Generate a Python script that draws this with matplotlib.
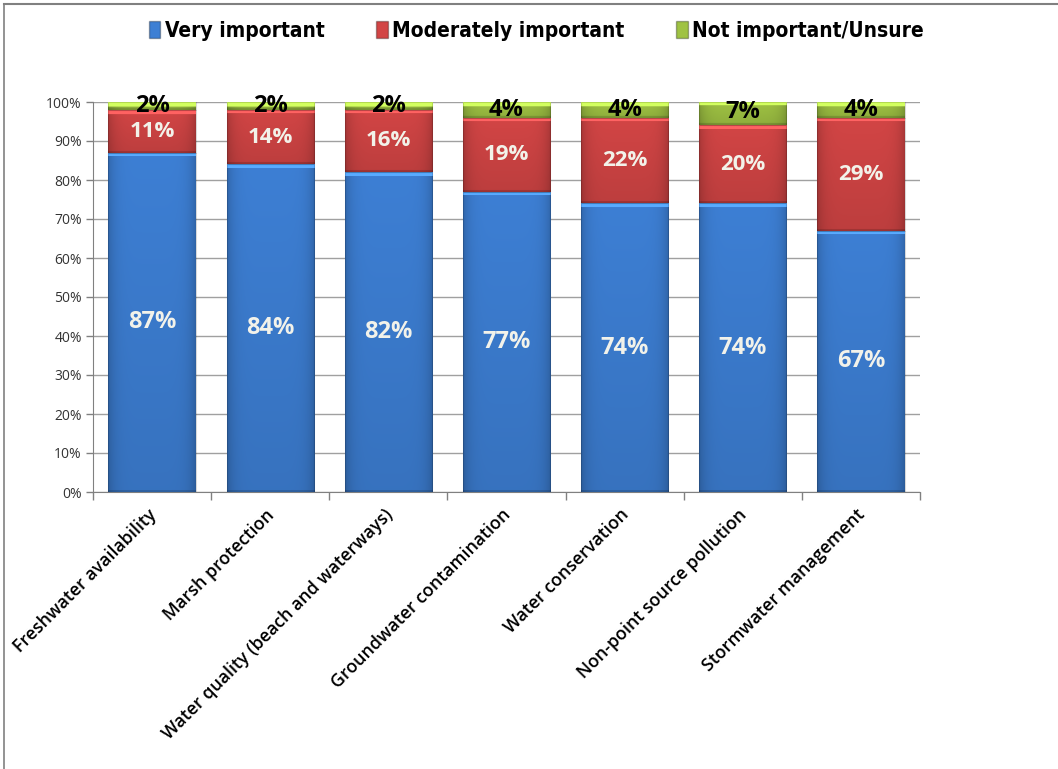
import numpy as np
import matplotlib
matplotlib.use("Agg")
from matplotlib import pyplot as plt
from matplotlib.patches import Patch
from matplotlib.lines import Line2D
from matplotlib.colors import to_rgb

categories = ["Freshwater availability", "Marsh protection",
              "Water quality (beach and waterways)", "Groundwater contamination",
              "Water conservation", "Non-point source pollution",
              "Stormwater management"]
very = [87, 84, 82, 77, 74, 74, 67]
moderate = [11, 14, 16, 19, 22, 20, 29]
not_imp = [2, 2, 2, 4, 4, 7, 4]
series_names = ["Very important", "Moderately important", "Not important/Unsure"]
yticks = [0, 10, 20, 30, 40, 50, 60, 70, 80, 90, 100]

colors = ["#3d7fd4", "#d24545", "#9fc243"]
label_colors = ["#f2f2ea", "#f2f2ea", "black"]
label_sizes = [17, 16, 17]

plt.rcParams['font.family'] = ['Open Sans', 'DejaVu Sans']

fig = plt.figure(figsize=(10.58, 7.69), dpi=100)
ax = fig.add_axes([93/1058, 1-492/769, 827/1058, 390/769])


def shaded(color, h_px=60, w_px=80):
    # bevel look: darker at the sides, light strip on top
    base = np.array(to_rgb(color))
    x = np.linspace(-1, 1, w_px)
    side = 1 - 0.18 * np.abs(x) ** 6
    y = np.linspace(0, 1, h_px)[:, None]
    vert = 1 - 0.10 * y
    img = base[None, None, :] * side[None, :, None] * vert[:, :, None]
    top = 4
    img[:top] = np.clip(base * 1.25 + 0.05, 0, 1)
    img[h_px - 2:] *= 0.85
    return np.clip(img, 0, 1)


width = 0.74
x = np.arange(len(categories))
bottoms = np.zeros(len(categories))
for vals, col, lc, fs in zip([very, moderate, not_imp], colors, label_colors, label_sizes):
    for i, v in enumerate(vals):
        b = bottoms[i]
        t = min(b + v, 100)
        h_px = max(int((t - b) * 3.9), 6)
        ax.imshow(shaded(col, h_px), extent=(x[i] - width/2, x[i] + width/2, b, t),
                  aspect='auto', interpolation='bilinear', zorder=3)
        ax.add_patch(plt.Rectangle((x[i] - width/2, b), width, t - b, fill=False,
                                   edgecolor=(0, 0, 0, 0.15), lw=0.8, zorder=4))
        ypos = b + v / 2
        ax.text(x[i], ypos, f"{v}%", ha='center', va='center', color=lc,
                fontsize=fs, fontweight='bold', zorder=5)
    bottoms += np.array(vals)

ax.set_xlim(-0.5, len(categories) - 0.5)
ax.set_ylim(0, 100)
ax.set_yticks(yticks)
ax.set_yticklabels([f"{t}%" for t in yticks], fontsize=10, color="#333333")
ax.yaxis.grid(True, color="#a0a0a0", lw=1, zorder=0)
ax.set_axisbelow(True)

# tick marks sit between categories, labels at the bar centres
ax.set_xticks(np.arange(len(categories) + 1) - 0.5, minor=False)
ax.set_xticklabels([])
ax.tick_params(axis='x', length=6, color="#808080", width=1)
ax.tick_params(axis='y', length=5, color="#808080", width=1, pad=3)
ax.set_xticks(x - 0.04, minor=True)
ax.set_xticklabels(categories, minor=True, rotation=45, ha='right',
                   rotation_mode='anchor', fontsize=12.8, fontweight='semibold')
ax.tick_params(axis='x', which='minor', length=0, pad=10)

for s in ['top', 'right']:
    ax.spines[s].set_visible(False)
for s in ['left', 'bottom']:
    ax.spines[s].set_color("#808080")

handles = [Patch(facecolor=c, edgecolor=(0, 0, 0, 0.3)) for c in colors]
fig.legend(handles, series_names, loc='center', bbox_to_anchor=(0.507, 1 - 31/769),
           ncol=3, frameon=False, handlelength=0.55, handleheight=0.9,
           handletextpad=0.2, columnspacing=2.5,
           prop={'family': ['DejaVu Sans'], 'stretch': 'condensed',
                 'weight': 'bold', 'size': 15})

# outer frame lines
fig.add_artist(Line2D([4/1058, 1], [1 - 4/769, 1 - 4/769], color="#808080", lw=1.5))
fig.add_artist(Line2D([4/1058, 4/1058], [0, 1 - 4/769], color="#808080", lw=1.2))

fig.savefig("out.png", dpi=100)
